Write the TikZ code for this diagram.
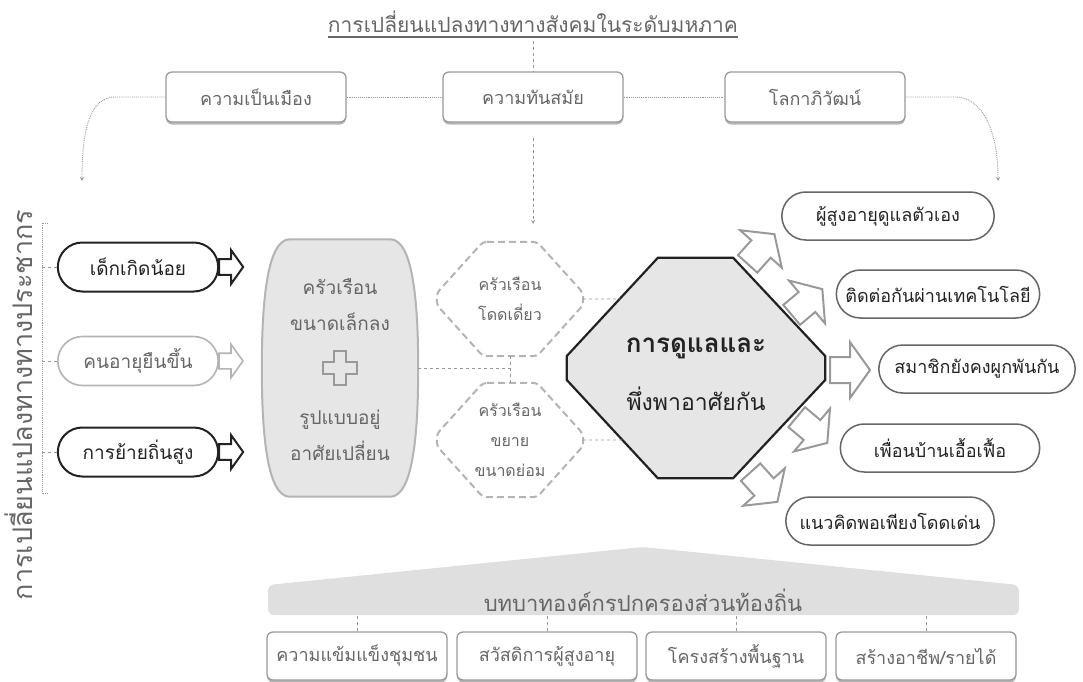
\documentclass[tikz,border=0pt]{standalone}
\usepackage{fontspec}
\setmainfont[Script=Thai]{Loma}
\usepackage{tikz}
\usetikzlibrary{shapes.misc, arrows, positioning, calc, shadows}
\definecolor{ink}{HTML}{222222}
\definecolor{midgray}{HTML}{666666}
\definecolor{softgray}{HTML}{999999}
\definecolor{palegray}{HTML}{B4B4B4}
\definecolor{fillgray}{HTML}{E6E6E6}
\tikzset{pics/fatarrow/.style={code={
    \filldraw[fill=white, draw=#1, line join=miter] (-20,-13) -- (0,-13) -- (0,-28) -- (20,0) -- (0,28) -- (0,13) -- (-20,13) -- cycle;
}}}

\begin{document}
\begin{tikzpicture}[x=1pt, y=-1pt]
    \tikzstyle{topbox} = [rectangle, rounded corners=6pt, draw=softgray, line width=1.3pt, fill=white, minimum width=180pt, minimum height=50pt, text=midgray, font=\fontsize{18}{20}\selectfont, drop shadow={shadow xshift=0pt, shadow yshift=-2.5pt, fill=softgray, opacity=.7}]
    \tikzstyle{pill} = [rounded rectangle, draw=ink, line width=2pt, fill=white, minimum width=167pt, minimum height=49pt, text=ink, font=\fontsize{19}{21}\selectfont]
    \tikzstyle{softpill} = [pill, draw=palegray, line width=1.6pt, text=midgray]
    \tikzstyle{outpill} = [rounded rectangle, draw=midgray, line width=1.5pt, fill=white, minimum height=48pt, text=ink, font=\fontsize{18}{20}\selectfont]
    \tikzstyle{hextext} = [minimum width=146pt, minimum height=114pt, inner sep=0pt, align=center, text=midgray, font=\fontsize{16}{30}\selectfont]
    \tikzstyle{hexline} = [palegray, line width=2pt, dash pattern=on 7pt off 4pt, rounded corners=4pt]
    \tikzstyle{dashline} = [softgray, dashed, line width=.8pt]
    \tikzstyle{dotline} = [softgray, densely dotted, line width=.9pt]
    \tikzstyle{arrow} = [dotline, ->, >=stealth]

    \useasboundingbox (0,0) rectangle (1083,681);

    % macro level
    \node[text=midgray, font=\fontsize{21}{24}\selectfont, inner sep=0pt] (title) at (533,22) {การเปลี่ยนแปลงทางทางสังคมในระดับมหภาค};
    \draw[midgray, line width=2pt] ($(title.south west)+(0,4)$) -- ($(title.south east)+(0,4)$);
    \node[topbox] (urban) at (256,97) {ความเป็นเมือง};
    \node[topbox] (modern) at (533,97) {ความทันสมัย};
    \node[topbox] (global) at (815,97) {โลกาภิวัฒน์};
    \coordinate (popin) at (82,181);
    \coordinate (hhin) at (533,224);
    \coordinate (careout) at (998,181);

    \draw[dashline] ($(title.south)+(0,8)$) -- (modern);
    \draw[dotline] (urban) -- (modern);
    \draw[dotline] (modern) -- (global);
    \draw[arrow] (urban.west) -- ++(-50,0) .. controls +(-24,0) and +(0,-55) .. (popin);
    \draw[arrow] (global.east) -- ++(50,0) .. controls +(24,0) and +(0,-55) .. (careout);
    \draw[arrow, dashed] ($(modern.south)+(0,15)$) -- (hhin);

    % population
    \node[rotate=90, text=midgray, font=\fontsize{27}{30}\selectfont, inner sep=0pt] (poplabel) at (19,405) {การเปลี่ยนแปลงทางทางประชากร};
    \node[pill] (lowbirth) at (138,267) {เด็กเกิดน้อย};
    \node[softpill] (longlife) at (138,361) {คนอายุยืนขึ้น};
    \node[pill] (migrate) at (138,452) {การย้ายถิ่นสูง};
    \coordinate (brtop) at (42,223);
    \coordinate (brbot) at (42,493);
    \draw[dotline] ($(brtop)+(6,0)$) -- (brtop) -- (brbot) -- ++(6,0);
    \draw[dashline] (brtop |- lowbirth) -- (lowbirth);
    \draw[dashline] (brtop |- longlife) -- (longlife);
    \draw[dashline] (brtop |- migrate) -- (migrate);
    \pic[line width=2pt, scale=.6] at ($(lowbirth.east)+(12,0)$) {fatarrow=ink};
    \pic[line width=1.6pt, scale=.6] at ($(longlife.east)+(12,0)$) {fatarrow=palegray};
    \pic[line width=2pt, scale=.6] at ($(migrate.east)+(12,0)$) {fatarrow=ink};

    % households
    \node[minimum width=156pt, minimum height=257pt, inner sep=0pt] (house) at (340,368) {};
    \filldraw[fill=fillgray, draw=palegray, line width=2pt] ($(house.north west)+(28,0)$) -- ($(house.north east)+(-28,0)$) .. controls +(22,0) and +(0,-70) .. (house.east) .. controls +(0,70) and +(22,0) .. ($(house.south east)+(-28,0)$) -- ($(house.south west)+(28,0)$) .. controls +(-22,0) and +(0,70) .. (house.west) .. controls +(0,-70) and +(-22,0) .. ($(house.north west)+(28,0)$) -- cycle;
    \node[align=center, text=midgray, font=\fontsize{19}{36}\selectfont] (smallhh) at (340,305) {ครัวเรือน\\ขนาดเล็กลง};
    \draw[softgray, line width=1.6pt] ($(house)+(-6,-17)$) -- ++(12,0) -- ++(0,11) -- ++(11,0) -- ++(0,12) -- ++(-11,0) -- ++(0,11) -- ++(-12,0) -- ++(0,-11) -- ++(-11,0) -- ++(0,-12) -- ++(11,0) -- cycle;
    \node[align=center, text=midgray, font=\fontsize{19}{36}\selectfont] (lifestyle) at (340,435) {รูปแบบอยู่\\อาศัยเปลี่ยน};

    \node[hextext] (single) at (510,299) {ครัวเรือน\\โดดเดี่ยว};
    \node[hextext] (extended) at (510,440) {ครัวเรือน\\ขยาย\\ขนาดย่อม};
    \draw[hexline] ($(single.north)+(-27,0)$) -- ++(54,0) -- ($(single.east)+(0,-6)$) -- ($(single.east)+(0,6)$) -- ($(single.south)+(27,0)$) -- ++(-54,0) -- ($(single.west)+(0,6)$) -- ($(single.west)+(0,-6)$) -- cycle;
    \draw[hexline] ($(extended.north)+(-27,0)$) -- ++(54,0) -- ($(extended.east)+(0,-6)$) -- ($(extended.east)+(0,6)$) -- ($(extended.south)+(27,0)$) -- ++(-54,0) -- ($(extended.west)+(0,6)$) -- ($(extended.west)+(0,-6)$) -- cycle;
    \draw[dashline] (house.east) -- (house.east -| single.south);
    \draw[dashline] (single.south) -- (extended.north);

    % care
    \node[minimum width=258pt, minimum height=220pt, inner sep=0pt] (care) at (696,368) {};
    \coordinate (o1) at ($(care.north west)+(91,0)$);
    \coordinate (o2) at ($(care.north east)+(-92,0)$);
    \coordinate (o3) at ($(care.east)+(0,-12)$);
    \coordinate (o4) at ($(care.east)+(0,12)$);
    \coordinate (o5) at ($(care.south east)+(-92,0)$);
    \coordinate (o6) at ($(care.south west)+(91,0)$);
    \coordinate (o7) at ($(care.west)+(0,12)$);
    \coordinate (o8) at ($(care.west)+(0,-12)$);
    \filldraw[fill=fillgray, draw=ink, line width=2.2pt] (o1) -- (o2) -- (o3) -- (o4) -- (o5) -- (o6) -- (o7) -- (o8) -- cycle;
    \node[text=ink, font=\fontsize{26}{30}\selectfont\bfseries] (caretop) at (696,348) {การดูแลและ};
    \node[text=ink, font=\fontsize{23}{26}\selectfont] (carebot) at (696,399) {พึ่งพาอาศัยกัน};
    \draw[dashline] (single.east) -- ($(o8)!.58!(o1)$);
    \draw[dashline] (extended.east) -- ($(o7)!.61!(o6)$);

    \node[outpill, minimum width=219pt] (selfcare) at (888,216) {ผู้สูงอายุดูแลตัวเอง};
    \node[outpill, minimum width=210pt] (techlink) at (938,294) {ติดต่อกันผ่านเทคโนโลยี};
    \node[outpill, minimum width=203pt] (bonded) at (977,369) {สมาชิกยังคงผูกพันกัน};
    \node[outpill, minimum width=206pt] (neighbour) at (940,448) {เพื่อนบ้านเอื้อเฟื้อ};
    \node[outpill, minimum width=215pt] (sufficiency) at (890,521) {แนวคิดพอเพียงโดดเด่น};
    \pic[line width=2pt, rotate=48] at (761,249) {fatarrow=softgray};
    \pic[line width=2pt, rotate=40] at (807,302) {fatarrow=softgray};
    \pic[line width=2pt] at (850,370) {fatarrow=softgray};
    \pic[line width=2pt, rotate=-40] at (812,430) {fatarrow=softgray};
    \pic[line width=2pt, rotate=-48] at (764,487) {fatarrow=softgray};

    % local government
    \fill[gray!25, rounded corners=6pt] (268,615) -- (268,585) -- (643,547) -- (1019,585) -- (1019,615) -- cycle;
    \node[minimum width=751pt, minimum height=30pt, inner sep=0pt, text=midgray, font=\fontsize{22}{24}\selectfont] (localgov) at (643,600) {บทบาทองค์กรปกครองส่วนท้องถิ่น};
    \node[topbox, minimum height=48pt] (community) at (357,656) {ความแข้มแข็งชุมชน};
    \node[topbox, minimum height=48pt] (welfare) at (547,656) {สวัสดิการผู้สูงอายุ};
    \node[topbox, minimum height=48pt] (infra) at (736,656) {โครงสร้างพื้นฐาน};
    \node[topbox, minimum height=48pt] (income) at (926,656) {สร้างอาชีพ/รายได้};
    \draw[dashline] (community.north) -- (community.north |- localgov.south);
    \draw[dashline] (welfare.north) -- (welfare.north |- localgov.south);
    \draw[dashline] (infra.north) -- (infra.north |- localgov.south);
    \draw[dashline] (income.north) -- (income.north |- localgov.south);
\end{tikzpicture}
\end{document}
